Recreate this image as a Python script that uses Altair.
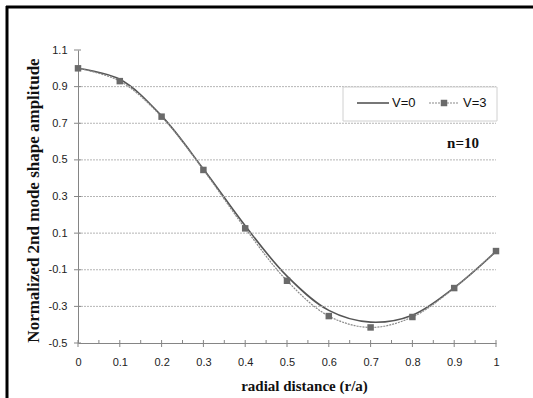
import altair as alt
import pandas as pd

# ---- data ----
r = [0.0, 0.1, 0.2, 0.3, 0.4, 0.5, 0.6, 0.7, 0.8, 0.9, 1.0]
v0 = [1.0, 0.94, 0.74, 0.45, 0.14, -0.135, -0.322, -0.386, -0.348, -0.198, 0.0]
v3 = [1.0, 0.93, 0.736, 0.445, 0.126, -0.16, -0.353, -0.415, -0.358, -0.2, 0.002]
x_ticks = [0.0, 0.1, 0.2, 0.3, 0.4, 0.5, 0.6, 0.7, 0.8, 0.9, 1.0]
x_minor = [0.05, 0.15, 0.25, 0.35, 0.45, 0.55, 0.65, 0.75, 0.85, 0.95]
y_ticks = [-0.5, -0.3, -0.1, 0.1, 0.3, 0.5, 0.7, 0.9, 1.1]
y_grid = [-0.3, -0.1, 0.1, 0.3, 0.5, 0.7, 0.9]

W, H = 418, 293
AX = "#858585"

df0 = pd.DataFrame({"r": r, "v": v0})
df3 = pd.DataFrame({"r": r, "v": v3})
xs = alt.Scale(domain=[0, 1], nice=False, zero=False)
ys = alt.Scale(domain=[-0.5, 1.1], nice=False, zero=False)

xaxis = alt.Axis(
    values=x_ticks, format="~g", ticks=False, grid=False, domainColor=AX,
    labelOverlap=False, labelFlush=False,
    labelFont="Liberation Sans", labelFontSize=11, labelColor="#222",
    labelPadding=13, title="radial distance (r/a)", titleFont="Liberation Serif",
    titleFontSize=15, titleFontWeight="bold", titleColor="#111",
    titleX=W / 2 + 17, titleY=42, titleBaseline="middle")
yaxis = alt.Axis(
    values=y_ticks, labelExpr="replace(format(datum.value, '.1f'), '\u2212', '-')",
    ticks=False, grid=False, domainColor=AX, labelOverlap=False, labelFlush=False,
    labelFont="Liberation Sans", labelFontSize=11, labelColor="#222",
    labelPadding=11, title="Normalized 2nd mode shape amplitude",
    titleFont="Liberation Serif", titleFontSize=17, titleFontWeight="bold",
    titleColor="#111", titleX=-45, titleY=150, titleAngle=-90,
    titleAlign="center", titleBaseline="middle")


def X(f):
    return alt.X(f, scale=xs, axis=xaxis)


def Y(f):
    return alt.Y(f, scale=ys, axis=yaxis)


grid = alt.Chart(pd.DataFrame({"g": y_grid})).mark_rule(
    color="#b5b5b5", strokeWidth=1, strokeDash=[2, 1]).encode(
    y=Y("g:Q"), x=alt.value(0), x2=alt.value(W))

xmaj = alt.Chart(pd.DataFrame({"t": x_ticks})).mark_rule(color=AX).encode(
    x=X("t:Q"), y=alt.value(H - 3), y2=alt.value(H + 4))
xmin = alt.Chart(pd.DataFrame({"t": x_minor})).mark_rule(color=AX).encode(
    x=X("t:Q"), y=alt.value(H - 3), y2=alt.value(H))
ymaj = alt.Chart(pd.DataFrame({"t": y_ticks})).mark_rule(color=AX).encode(
    y=Y("t:Q"), x=alt.value(-4), x2=alt.value(3))

line0 = alt.Chart(df0).mark_line(
    color="#555555", strokeWidth=1.6, interpolate="catmull-rom").encode(
    x=X("r:Q"), y=Y("v:Q"))
line3 = alt.Chart(df3).mark_line(
    color="#8a8a8a", strokeWidth=1.2, strokeDash=[2, 1],
    interpolate="catmull-rom").encode(x=X("r:Q"), y=Y("v:Q"))
pts3 = alt.Chart(df3).mark_point(
    shape="square", filled=True, size=42, color="#6a6a6a", opacity=1).encode(
    x=X("r:Q"), y=Y("v:Q"))

# legend box and entries
one = pd.DataFrame({"a": [0]})
lbox = alt.Chart(one).mark_rect(fill="white", stroke="#d0d0d0", strokeWidth=1).encode(
    x=alt.value(265), x2=alt.value(419), y=alt.value(37), y2=alt.value(71))
lsolid = alt.Chart(one).mark_rule(color="#555555", strokeWidth=1.6).encode(
    x=alt.value(279), x2=alt.value(311), y=alt.value(53))
ldot = alt.Chart(one).mark_rule(color="#8a8a8a", strokeWidth=1.2, strokeDash=[2, 1]).encode(
    x=alt.value(351), x2=alt.value(381), y=alt.value(53))
lsq = alt.Chart(one).mark_point(shape="square", filled=True, size=42,
                                color="#6a6a6a", opacity=1).encode(
    x=alt.value(366), y=alt.value(53))
lt0 = alt.Chart(one).mark_text(text="V=0", font="Liberation Sans", fontSize=13,
                               align="left", baseline="middle", color="#111").encode(
    x=alt.value(314), y=alt.value(53))
lt3 = alt.Chart(one).mark_text(text="V=3", font="Liberation Sans", fontSize=13,
                               align="left", baseline="middle", color="#111").encode(
    x=alt.value(385), y=alt.value(53))
ntext = alt.Chart(one).mark_text(text="n=10", font="Liberation Serif", fontSize=15,
                                 fontWeight="bold", align="center", baseline="middle",
                                 color="#111").encode(x=alt.value(385), y=alt.value(93))

# frame
ftop = alt.Chart(one).mark_rule(color="black", strokeWidth=3).encode(
    x=alt.value(-72), x2=alt.value(460), y=alt.value(-43))
fleft = alt.Chart(one).mark_rule(color="black", strokeWidth=3).encode(
    x=alt.value(-71), y=alt.value(-44), y2=alt.value(360))

chart = alt.layer(
    line0, grid, xmaj, xmin, ymaj, line3, pts3,
    lbox, lsolid, ldot, lsq, lt0, lt3, ntext, ftop, fleft
).properties(
    width=W, height=H,
    autosize=alt.AutoSizeParams(type="none"),
    padding={"left": 78, "top": 50, "right": 37, "bottom": 55},
    background="white"
).configure_view(stroke=None)

chart.save("out.html", embed_options={"renderer": "svg", "actions": False})
